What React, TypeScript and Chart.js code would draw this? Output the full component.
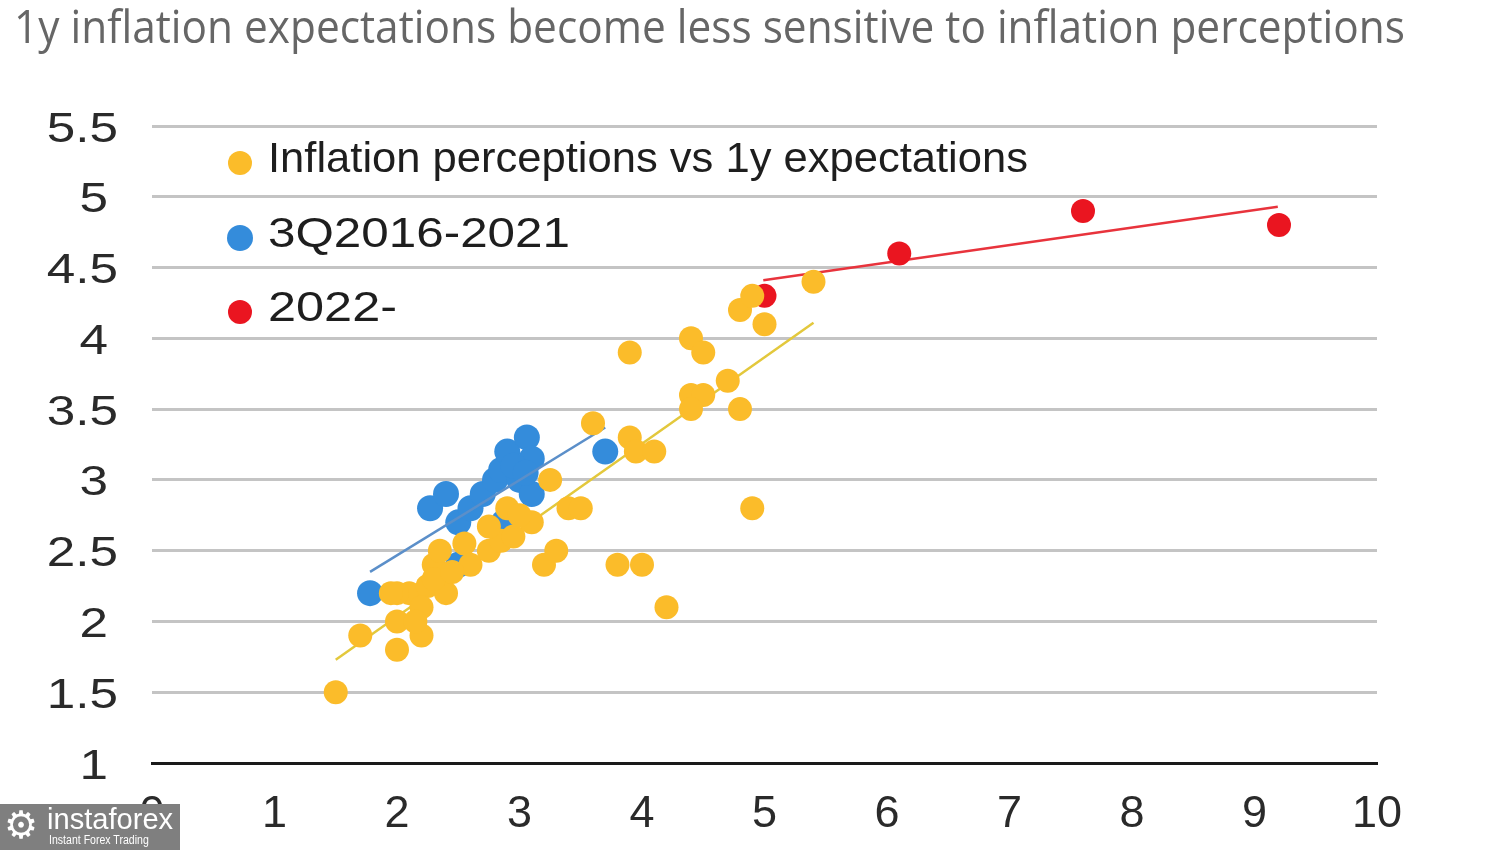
import React, { useEffect, useRef } from "react";
import { Chart, registerables } from "chart.js";

Chart.register(...registerables);

const TITLE = "1y inflation expectations become less sensitive to inflation perceptions";
const SERIES_LABELS = ["Inflation perceptions vs 1y expectations", "3Q2016-2021", "2022-"];

// All observations: inflation perceptions (x) vs 1y expectations (y)
const allPerceptions = [
  1.5, 1.7, 2.0, 2.2, 2.0, 2.1, 2.25, 2.4, 2.2, 2.3, 2.35, 2.55, 2.6, 2.75, 2.85, 2.95, 2.75,
  3.1, 3.25, 3.4, 3.5, 3.6, 3.9, 3.95, 4.1, 3.8, 4.0, 4.2, 3.2, 3.3, 3.9, 4.4, 4.5, 4.4, 4.5,
  4.4, 4.7, 4.8, 4.9, 4.8, 4.9, 5.0, 5.4, 2.0, 2.15, 2.3, 1.95, 2.45, 2.9, 3.0,
];
const allExpectations = [
  1.5, 1.9, 1.8, 1.9, 2.0, 2.2, 2.25, 2.2, 2.1, 2.4, 2.5, 2.55, 2.4, 2.5, 2.57, 2.6, 2.67,
  2.7, 3.0, 2.8, 2.8, 3.4, 3.3, 3.2, 3.2, 2.4, 2.4, 2.1, 2.4, 2.5, 3.9, 4.0, 3.9, 3.6, 3.6,
  3.5, 3.7, 3.5, 2.8, 4.2, 4.3, 4.1, 4.4, 2.2, 2.0, 2.3, 2.2, 2.35, 2.8, 2.75,
];

// 3Q2016-2021
const periodAPerceptions = [1.78, 2.5, 2.27, 2.4, 2.5, 2.6, 2.7, 2.8, 2.87, 2.85, 2.9, 3.06, 3.1, 3.0, 3.1, 3.7, 2.95, 3.05];
const periodAExpectations = [2.2, 2.4, 2.8, 2.9, 2.7, 2.8, 2.9, 3.0, 2.7, 3.07, 3.2, 3.3, 3.15, 3.0, 2.9, 3.2, 3.1, 3.05];

// 2022-
const periodBPerceptions = [5.0, 6.1, 7.6, 9.2];
const periodBExpectations = [4.3, 4.6, 4.9, 4.8];

// Trend line endpoints
const allTrendX = [1.5, 5.4];
const allTrendY = [1.73, 4.11];
const periodATrendX = [1.78, 3.7];
const periodATrendY = [2.35, 3.37];
const periodBTrendX = [4.99, 9.19];
const periodBTrendY = [4.41, 4.93];

const X_MIN = 0, X_MAX = 10, X_STEP = 1;
const Y_MIN = 1, Y_MAX = 5.5, Y_STEP = 0.5;

const COLORS = {
  yellow: "#FBBC2A",
  blue: "#348CDB",
  red: "#EA1520",
  yellowLine: "#E3C83C",
  blueLine: "#5B8FC9",
  redLine: "#E8333C",
};

const FONT = '"Liberation Sans", Arial, sans-serif';

const pts = (xs: number[], ys: number[]) => xs.map((x, i) => ({ x, y: ys[i] }));

const titlePlugin = {
  id: "customTitle",
  afterDraw(chart: any) {
    const ctx = chart.ctx as CanvasRenderingContext2D;
    ctx.save();
    ctx.font = '46px "Open Sans"';
    ctx.fillStyle = "#666666";
    ctx.textBaseline = "alphabetic";
    const w = ctx.measureText(TITLE).width;
    ctx.translate(14, 43);
    ctx.scale(1391 / w, 1);
    ctx.fillText(TITLE, 0, 0);
    ctx.restore();
  },
};

const legendPlugin = {
  id: "customLegend",
  afterDraw(chart: any) {
    const ctx = chart.ctx as CanvasRenderingContext2D;
    const colors = [COLORS.yellow, COLORS.blue, COLORS.red];
    const radii = [12, 13, 12];
    const rows = [160, 235, 309];
    const widths = [760, 302, 129];
    ctx.save();
    ctx.font = `42px ${FONT}`;
    ctx.textBaseline = "middle";
    SERIES_LABELS.forEach((label, i) => {
      ctx.beginPath();
      ctx.fillStyle = colors[i];
      ctx.arc(240, rows[i] + 3, radii[i], 0, Math.PI * 2);
      ctx.fill();
      ctx.fillStyle = "#1e1e1e";
      const w = ctx.measureText(label).width;
      ctx.save();
      ctx.translate(268, rows[i]);
      ctx.scale(widths[i] / w, 1);
      ctx.fillText(label, 0, 0);
      ctx.restore();
    });
    ctx.restore();
  },
};

const yTickPlugin = {
  id: "yTickLabels",
  afterDraw(chart: any) {
    const ctx = chart.ctx as CanvasRenderingContext2D;
    const s = chart.scales.y;
    ctx.save();
    ctx.font = `42px ${FONT}`;
    ctx.fillStyle = "#2a2a2a";
    ctx.textAlign = "right";
    ctx.textBaseline = "middle";
    s.ticks.forEach((t: any) => {
      const y = s.getPixelForValue(t.value);
      const right = Number.isInteger(t.value) ? 108 : 118;
      ctx.save();
      ctx.translate(right, y + 4);
      ctx.scale(1.22, 1);
      ctx.fillText(String(t.value), 0, 0);
      ctx.restore();
    });
    ctx.restore();
  },
};

export default function App() {
  const canvasRef = useRef<HTMLCanvasElement | null>(null);

  useEffect(() => {
    document.body.style.margin = "0";
    const canvas = canvasRef.current;
    if (!canvas) return;
    const pointDs = (label: string, data: any[], color: string, r: number) => ({
      type: "scatter" as const,
      label,
      data,
      backgroundColor: color,
      borderColor: color,
      borderWidth: 0,
      pointRadius: r,
      pointHoverRadius: r,
    });
    const lineDs = (data: any[], color: string) => ({
      type: "scatter" as const,
      label: "trend",
      data,
      showLine: true,
      borderColor: color,
      borderWidth: 2.5,
      pointRadius: 0,
      fill: false,
    });
    const chart = new Chart(canvas, {
      type: "scatter",
      data: {
        datasets: [
          pointDs(SERIES_LABELS[0], pts(allPerceptions, allExpectations), COLORS.yellow, 12),
          lineDs(pts(allTrendX, allTrendY), COLORS.yellowLine),
          lineDs(pts(periodATrendX, periodATrendY), COLORS.blueLine),
          pointDs(SERIES_LABELS[1], pts(periodAPerceptions, periodAExpectations), COLORS.blue, 13),
          pointDs(SERIES_LABELS[2], pts(periodBPerceptions, periodBExpectations), COLORS.red, 12),
          lineDs(pts(periodBTrendX, periodBTrendY), COLORS.redLine),
        ] as any,
      },
      options: {
        animation: false,
        responsive: false,
        events: [],
        layout: { padding: { left: 0, right: 123, top: 126, bottom: 0 } },
        plugins: {
          legend: { display: false },
          title: { display: false },
          tooltip: { enabled: false },
        },
        scales: {
          x: {
            type: "linear",
            min: X_MIN,
            max: X_MAX,
            ticks: {
              stepSize: X_STEP,
              padding: 25,
              color: "#2a2a2a",
              font: { family: FONT, size: 45 },
              callback: (v: any) => String(v),
            },
            grid: { display: false, drawTicks: false },
            border: { display: true, color: "#1a1a1a", width: 3 },
            afterFit: (scale: any) => {
              scale.height = 87;
            },
          },
          y: {
            type: "linear",
            min: Y_MIN,
            max: Y_MAX,
            ticks: {
              stepSize: Y_STEP,
              display: false,
            },
            grid: { color: "#c4c4c4", lineWidth: 3, drawTicks: false },
            border: { display: false },
            afterFit: (scale: any) => {
              scale.width = 152;
            },
          },
        },
      },
      plugins: [titlePlugin, legendPlugin, yTickPlugin],
    });
    return () => chart.destroy();
  }, []);

  return (
    <div style={{ position: "relative", width: 1500, height: 850, background: "#fff", overflow: "hidden" }}>
      <canvas ref={canvasRef} width={1500} height={850} style={{ display: "block", width: 1500, height: 850 }} />
      <div
        style={{
          position: "absolute",
          left: 0,
          top: 804,
          width: 180,
          height: 46,
          background: "#7f7f7f",
          color: "#fff",
          fontFamily: FONT,
        }}
      >
        <div style={{ position: "absolute", left: 4, top: 2, fontSize: 38, lineHeight: "38px", fontFamily: '"DejaVu Sans", sans-serif' }}>⚙</div>
        <div
          style={{
            position: "absolute",
            left: 47,
            top: 0,
            fontSize: 30,
            lineHeight: "30px",
            whiteSpace: "nowrap",
            transform: "scaleX(0.97)",
            transformOrigin: "left top",
          }}
        >
          instaforex
        </div>
        <div
          style={{
            position: "absolute",
            left: 49,
            top: 30,
            fontSize: 12,
            lineHeight: "13px",
            whiteSpace: "nowrap",
            transform: "scaleX(0.88)",
            transformOrigin: "left top",
          }}
        >
          Instant Forex Trading
        </div>
      </div>
    </div>
  );
}
